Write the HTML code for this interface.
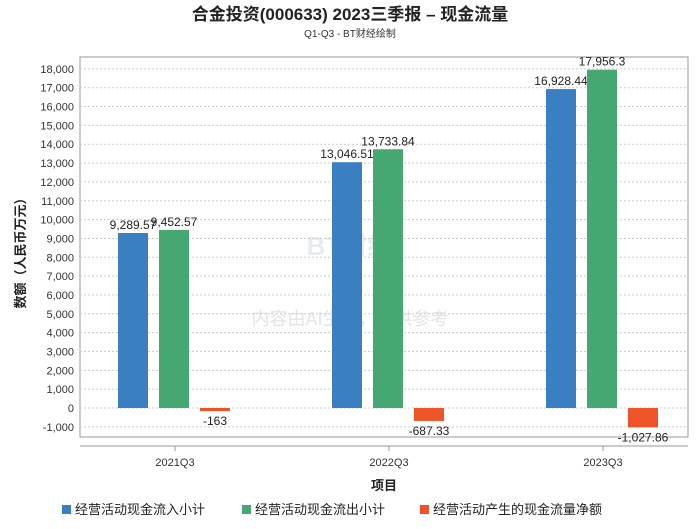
<!DOCTYPE html>
<html><head><meta charset="utf-8"><style>
body{margin:0;background:#fff;font-family:"Liberation Sans","Noto Sans CJK SC",sans-serif;}
svg text{font-family:"Liberation Sans","Noto Sans CJK SC",sans-serif;}
</style></head><body>
<svg id="c" width="700" height="524" xmlns="http://www.w3.org/2000/svg">
<text x="350" y="20" text-anchor="middle" font-size="17" font-weight="bold" fill="#222">合金投资(000633) 2023三季报 – 现金流量</text>
<text x="350" y="37" text-anchor="middle" font-size="10" fill="#333">Q1-Q3 - BT财经绘制</text>
<rect x="80" y="57" width="608" height="380" fill="none" stroke="#999"/>
<line x1="80" y1="446" x2="688" y2="446" stroke="#999"/>
<text x="350" y="255" text-anchor="middle" font-size="26" font-weight="bold" fill="#e8ebf0">BT财经</text>
<text x="350" y="325" text-anchor="middle" font-size="18" fill="#e4e4e4">内容由AI生成，仅供参考</text>
<g id="grid"></g><g id="bars"></g>
<text x="25" y="250" transform="rotate(-90 25 250)" text-anchor="middle" font-size="13" font-weight="bold" fill="#222">数额（人民币万元）</text>
<text x="384" y="490" text-anchor="middle" font-size="13" font-weight="bold" fill="#222">项目</text>
<g id="legend"></g>
</svg>
<script>
const categories=["2021Q3","2022Q3","2023Q3"];
const inflow=[9289.57,13046.51,16928.44];
const outflow=[9452.57,13733.84,17956.3];
const net=[-163,-687.33,-1027.86];
const inflowLabels=["9,289.57","13,046.51","16,928.44"];
const outflowLabels=["9,452.57","13,733.84","17,956.3"];
const netLabels=["-163","-687.33","-1,027.86"];
const yTicks=[-1000,0,1000,2000,3000,4000,5000,6000,7000,8000,9000,10000,11000,12000,13000,14000,15000,16000,17000,18000];
const seriesNames=["经营活动现金流入小计","经营活动现金流出小计","经营活动产生的现金流量净额"];
const colors=["#3a7fc1","#45a873","#ee5427"];
const NS="http://www.w3.org/2000/svg";
const y=v=>408-v*0.01884;
const x=i=>175+i*214;
function mk(t,a,p){const e=document.createElementNS(NS,t);for(const k in a)e.setAttribute(k,a[k]);p.appendChild(e);return e;}
const g=document.getElementById('grid');
yTicks.forEach(v=>{
 const l=mk('line',{x1:80,x2:688,y1:y(v),y2:y(v),stroke:'#ccc','stroke-dasharray':'2,2'},g);
 
 
 const t=mk('text',{x:74,y:y(v)+4,'text-anchor':'end','font-size':11,fill:'#333'},g);
 t.textContent=v.toLocaleString('en-US');
 
 
});
const b=document.getElementById('bars');
const series=[inflow,outflow,net],labels=[inflowLabels,outflowLabels,netLabels];
categories.forEach((c,i)=>{
 const t=mk('text',{x:x(i),y:466,'text-anchor':'middle','font-size':11,fill:'#333'},b);
 t.textContent=c;
 
 
 mk('line',{x1:x(i),x2:x(i),y1:446,y2:451,stroke:'#999'},b);
 series.forEach((s,j)=>{
  const v=s[i],cx=x(i)+(j-1)*41-1;
  const top=Math.min(y(v),y(0)),h=Math.abs(y(v)-y(0));
  const r=mk('rect',{x:cx-15,y:top,width:30,height:Math.max(h,1),fill:colors[j]},b);
  
  
  const lt=mk('text',{x:cx,y:v>=0?top-4:top+h+14,'text-anchor':'middle','font-size':12,fill:'#222'},b);
  lt.textContent=labels[j][i];
  
  
 });
});
const lg=document.getElementById('legend');
const lx=[62,242,420];
seriesNames.forEach((n,j)=>{
 const r=mk('rect',{x:lx[j],y:505,width:9,height:9,fill:colors[j]},lg);
 
 
 const t=mk('text',{x:lx[j]+13,y:514,'font-size':13,fill:'#222'},lg);
 t.textContent=n;
 
 
});
</script>
</body></html>
